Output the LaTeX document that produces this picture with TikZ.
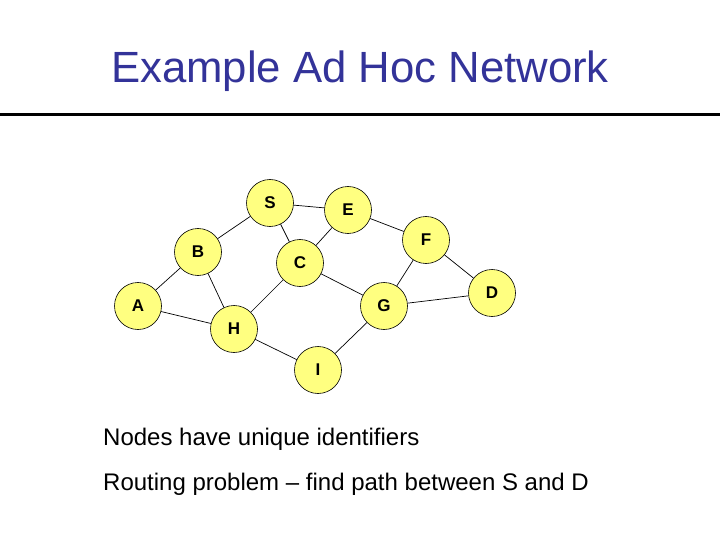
\documentclass[tikz,border=0pt]{standalone}
\usepackage{fontspec}
\setmainfont{Liberation Sans}
\definecolor{titleblue}{RGB}{51,51,153}
\definecolor{nodeyellow}{RGB}{255,255,128}
\begin{document}
\begin{tikzpicture}[x=1pt,y=-1pt,
  vtx/.style={circle,draw=black,line width=0.6pt,fill=nodeyellow,minimum size=47pt,inner sep=0pt,font=\fontsize{17}{17}\selectfont\bfseries},
  link/.style={draw=black,line width=0.7pt},
  body/.style={anchor=base west,inner sep=0pt,font=\fontsize{24}{28}\selectfont}]
\useasboundingbox (0,0) rectangle (720,540);
\node[anchor=base,text=titleblue,font=\fontsize{43.7}{50}\selectfont] (title) at (360,83) {Example Ad Hoc Network};
\coordinate (rl) at (0,114.5);
\coordinate (rr) at (720,114.5);
\draw[line width=3pt] (rl) -- (rr);
\node[vtx] (S) at (270,203) {S};
\node[vtx] (E) at (348,210) {E};
\node[vtx] (B) at (198,252) {B};
\node[vtx] (C) at (300,263) {C};
\node[vtx] (F) at (426,240) {F};
\node[vtx] (A) at (138,306) {A};
\node[vtx] (G) at (384,306) {G};
\node[vtx] (D) at (492,293) {D};
\node[vtx] (H) at (234,329) {H};
\node[vtx] (I) at (318,370) {I};
\draw[link] (S) -- (E);
\draw[link] (S) -- (B);
\draw[link] (S) -- (C);
\draw[link] (E) -- (C);
\draw[link] (E) -- (F);
\draw[link] (B) -- (A);
\draw[link] (B) -- (H);
\draw[link] (A) -- (H);
\draw[link] (H) -- (C);
\draw[link] (H) -- (I);
\draw[link] (C) -- (G);
\draw[link] (I) -- (G);
\draw[link] (G) -- (F);
\draw[link] (G) -- (D);
\draw[link] (F) -- (D);
\node[body] (t1) at (103,445) {Nodes have unique identifiers};
\node[body] (t2) at (103,490) {Routing problem – find path between S and D};
\end{tikzpicture}
\end{document}
